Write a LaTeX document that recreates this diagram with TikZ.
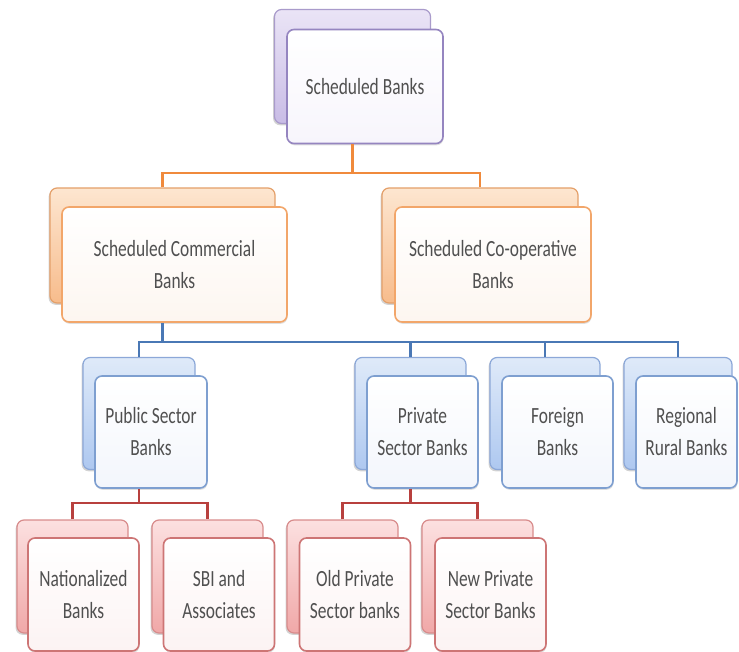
\documentclass[tikz,border=0pt]{standalone}
\usepackage{fontspec}
\newfontfamily\boxfont[FakeStretch=0.75]{Carlito}
\usetikzlibrary{shadows}

\definecolor{textgray}{HTML}{505050}
\definecolor{viotop}{HTML}{EAE4F6}
\definecolor{viobot}{HTML}{C9BCE6}
\definecolor{vioedge}{HTML}{A99BCB}
\definecolor{viorim}{HTML}{9585C0}
\definecolor{viopale}{HTML}{F7F5FC}
\definecolor{oratop}{HTML}{FDE6D0}
\definecolor{orabot}{HTML}{F7BC8C}
\definecolor{oraedge}{HTML}{E4A06A}
\definecolor{orarim}{HTML}{F2A66A}
\definecolor{orapale}{HTML}{FDF6F0}
\definecolor{oraline}{HTML}{F08A3C}
\definecolor{blutop}{HTML}{DFEAF9}
\definecolor{blubot}{HTML}{AEC8F0}
\definecolor{bluedge}{HTML}{8CA8D8}
\definecolor{blurim}{HTML}{7E9FD0}
\definecolor{blupale}{HTML}{F3F6FC}
\definecolor{bluline}{HTML}{4A78B5}
\definecolor{rdtop}{HTML}{FCE0E0}
\definecolor{rdbot}{HTML}{F0A8A8}
\definecolor{rdedge}{HTML}{D88C8C}
\definecolor{rdrim}{HTML}{CD7575}
\definecolor{rdpale}{HTML}{FCF3F3}
\definecolor{rdline}{HTML}{B8403E}

\begin{document}
\begin{tikzpicture}[x=0.5pt, y=-0.5pt]
  % style of boxes and links
  \tikzset{
    backbox/.style={rectangle, rounded corners=3.5pt, line width=0.6pt,
      draw=#1edge, top color=#1top, bottom color=#1bot,
      drop shadow={shadow xshift=-0.7pt, shadow yshift=-0.9pt, opacity=0.35}},
    frontbox/.style={rectangle, rounded corners=3.5pt, line width=0.8pt,
      draw=#1rim, top color=white, bottom color=#1pale, inner sep=2pt,
      drop shadow={shadow xshift=0.3pt, shadow yshift=-0.9pt, opacity=0.25},
      align=center, text=textgray, font=\boxfont\fontsize{11.6}{16}\selectfont},
    link/.style={line width=1.4pt, draw=#1line},
    lone/.style={minimum width=78pt, minimum height=57pt},
    ltwo/.style={minimum width=#1, minimum height=57.5pt},
    lthree/.style={minimum width=#1, minimum height=56pt},
    lfour/.style={minimum width=55.5pt, minimum height=56.5pt}
  }
  \useasboundingbox (0,0) rectangle (739,652);

  % level one
  \node[backbox=vio, lone] (sbb) at (352.5,66.5) {};
  \node[frontbox=vio, lone] (sb) at ([shift={(12.5,20)}]sbb.center) {Scheduled Banks};

  % level two
  \node[backbox=ora, ltwo=112.5pt] (scbb) at (162.5,245.5) {};
  \node[frontbox=ora, ltwo=112.5pt] (scb) at ([shift={(12,19)}]scbb.center)
    {Scheduled Commercial\\Banks};
  \node[backbox=ora, ltwo=98pt] (scobb) at (480,245.5) {};
  \node[frontbox=ora, ltwo=98pt] (scob) at ([shift={(13,19)}]scobb.center)
    {Scheduled Co-operative\\Banks};

  % level three
  \node[backbox=blu, lthree=56pt] (psbb) at (139,413.5) {};
  \node[frontbox=blu, lthree=56pt] (psb) at ([shift={(12,18.5)}]psbb.center)
    {Public Sector\\Banks};
  \node[backbox=blu, lthree=55.5pt] (pvbb) at (410.5,413.5) {};
  \node[frontbox=blu, lthree=55.5pt] (pvb) at ([shift={(12,18.5)}]pvbb.center)
    {Private\\Sector Banks};
  \node[backbox=blu, lthree=55pt] (fbb) at (545,413.5) {};
  \node[frontbox=blu, lthree=55.5pt] (fb) at ([shift={(12.5,18.5)}]fbb.center)
    {Foreign\\Banks};
  \node[backbox=blu, lthree=54pt] (rrbb) at (678,413.5) {};
  \node[frontbox=blu, lthree=50.5pt] (rrb) at ([shift={(8.5,18.5)}]rrbb.center)
    {Regional\\Rural Banks};

  % level four
  \node[backbox=rd, lfour] (nbb) at (72.5,576.5) {};
  \node[frontbox=rd, lfour] (nb) at ([shift={(11,18)}]nbb.center)
    {Nationalized\\Banks};
  \node[backbox=rd, lfour] (sabb) at (207.5,576.5) {};
  \node[frontbox=rd, lfour] (sab) at ([shift={(11.5,18)}]sabb.center)
    {SBI and\\Associates};
  \node[backbox=rd, lfour] (opbb) at (342.5,576.5) {};
  \node[frontbox=rd, lfour] (opb) at ([shift={(12.5,18)}]opbb.center)
    {Old Private\\Sector banks};
  \node[backbox=rd, lfour] (npbb) at (477.5,576.5) {};
  \node[frontbox=rd, lfour] (npb) at ([shift={(13,18)}]npbb.center)
    {New Private\\Sector Banks};

  % links
  \coordinate (busa) at (352.5,173);
  \coordinate (busb) at (162.5,342);
  \coordinate (busc) at (139,503);
  \coordinate (busd) at (410.5,503);
  \draw[link=ora] (sb.south -| sbb.south) -- (busa);
  \draw[link=ora] (scbb.north) |- (busa) -| (scobb.north);
  \draw[link=blu] (scb.south -| scbb.south) -- (busb);
  \draw[link=blu] (psbb.north) |- (busb) -| (rrbb.north);
  \draw[link=blu] (pvbb.north) -- (pvbb.north |- busb);
  \draw[link=blu] (fbb.north) -- (fbb.north |- busb);
  \draw[link=rd] (psb.south -| psbb.south) -- (busc);
  \draw[link=rd] (nbb.north) |- (busc) -| (sabb.north);
  \draw[link=rd] (pvb.south -| pvbb.south) -- (busd);
  \draw[link=rd] (opbb.north) |- (busd) -| (npbb.north);
\end{tikzpicture}
\end{document}
